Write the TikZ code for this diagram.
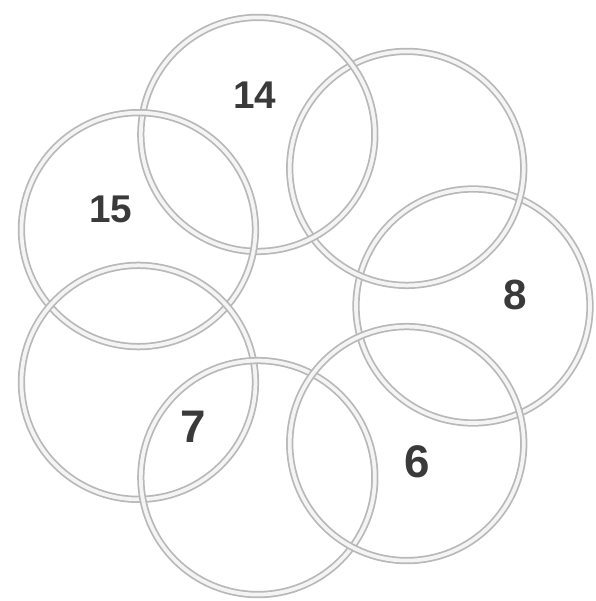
\documentclass[tikz,border=0pt]{standalone}
\usepackage{fontspec}
\setmainfont{Liberation Sans}
\usepackage{tikz}
\definecolor{ringgray}{HTML}{B8B8B8}
\definecolor{ringfill}{HTML}{F4F4F4}
\definecolor{numgray}{HTML}{3A3A3A}
\tikzstyle{ring} = [circle, draw=ringgray, double=ringfill, double distance=0.075cm, line width=0.035cm, minimum size=4.68cm, inner sep=0pt]
\tikzstyle{num} = [text=numgray, inner sep=0pt]

\begin{document}
\begin{tikzpicture}
		\useasboundingbox (-5.94,-5.9) rectangle (5.96,6.12);
		% seven rings round the middle
		\foreach \k in {0,...,6}
		\node[ring] (r\k) at ({360/7*\k}:3.52) {};
		\node[num, font=\bfseries\fontsize{22}{22}\selectfont] (n14) at (-0.84,4.22) {14};
		\node[num, font=\bfseries\fontsize{22}{22}\selectfont] (n15) at (-3.72,1.94) {15};
		\node[num, font=\bfseries\fontsize{24}{24}\selectfont] (n8) at (4.36,0.22) {8};
		\node[num, font=\bfseries\fontsize{26}{26}\selectfont] (n7) at (-2.08,-2.42) {7};
		\node[num, font=\bfseries\fontsize{26}{26}\selectfont] (n6) at (2.4,-3.12) {6};
	\end{tikzpicture}
\end{document}
